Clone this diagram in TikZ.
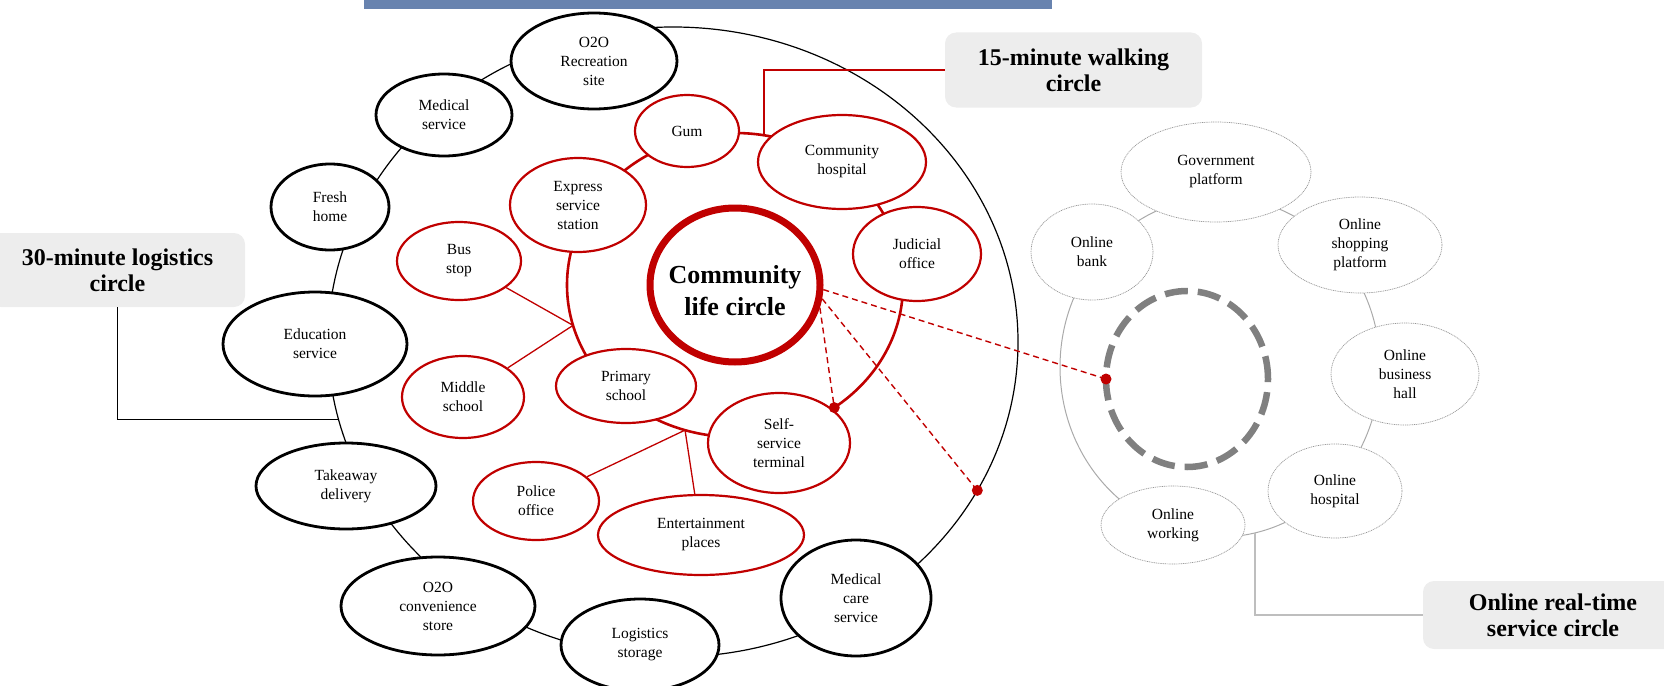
\documentclass[tikz,border=0pt]{standalone}
\usepackage{fontspec}
\setmainfont{Liberation Serif}
\usetikzlibrary{shapes.geometric}
\definecolor{ringred}{RGB}{192,0,0}
\definecolor{barblue}{RGB}{104,131,175}
\definecolor{tagfill}{RGB}{237,237,237}
\definecolor{onlinegray}{RGB}{150,150,150}
\definecolor{linkgray}{RGB}{170,170,170}
\definecolor{taglinegray}{RGB}{190,190,190}
\definecolor{dashgray}{RGB}{128,128,128}

\begin{document}
\begin{tikzpicture}[x=1pt,y=-1pt,
  every node/.style={inner sep=0pt},
  sz/.style 2 args={minimum width=#1pt, minimum height=#2pt},
  nodetext/.style={font=\fontsize{15.5}{19}\selectfont, align=center},
  blacknode/.style={nodetext, ellipse, draw=black, line width=2.8pt, fill=white},
  rednode/.style={nodetext, ellipse, draw=ringred, line width=2.2pt, fill=white},
  onlinenode/.style={nodetext, ellipse, draw=onlinegray, line width=0.7pt,
    dash pattern=on 1pt off 0.8pt, fill=white},
  ringshape/.style={ellipse, outer sep=0pt},
  tag/.style={rectangle, rounded corners=11pt, fill=tagfill,
    font=\fontsize{24}{26}\selectfont\bfseries, align=center},
  redthin/.style={draw=ringred, line width=1.3pt},
  reddash/.style={draw=ringred, line width=1.4pt, dash pattern=on 6pt off 4pt},
  reddot/.style={circle, fill=ringred, minimum size=11pt}
]
\useasboundingbox (0,0) rectangle (1664,685);

% title bar at the top edge
\fill[barblue] (364,-5) rectangle (1052,9);

% the three circles that join the services
\node[ringshape, draw=black, line width=1.2pt, sz={690}{630}] (outerring) at (673,342) {};
\node[ringshape, draw=ringred, line width=2.6pt, sz={336}{304}] (redring) at (735,285) {};
\node[ringshape, draw=linkgray, line width=1pt, sz={320}{340}] (onlinering) at (1220,367) {};

% 30-minute logistics circle
\node[blacknode, sz={166}{96}]  (o2orec)   at (594,61)  {O2O\\Recreation\\site};
\node[blacknode, sz={136}{82}]  (medsvc)   at (444,115) {Medical\\service};
\node[blacknode, sz={118}{86}]  (fresh)    at (330,207) {Fresh\\home};
\node[blacknode, sz={184}{104}] (edu)      at (315,344) {Education\\service};
\node[blacknode, sz={180}{86}]  (takeaway) at (346,486) {Takeaway\\delivery};
\node[blacknode, sz={194}{98}]  (o2oconv)  at (438,606) {O2O\\convenience\\store};
\node[blacknode, sz={158}{92}]  (logist)   at (640,645) {Logistics\\storage};
\node[blacknode, sz={150}{116}] (medcare)  at (856,598) {Medical\\care\\service};

% 15-minute walking circle
\node[rednode, sz={104}{72}]  (gum)      at (687,131) {Gum};
\node[rednode, sz={168}{94}]  (hosp)     at (842,162) {Community\\hospital};
\node[rednode, sz={128}{94}]  (judicial) at (917,254) {Judicial\\office};
\node[rednode, sz={136}{94}]  (express)  at (578,205) {Express\\service\\station};
\node[rednode, sz={124}{78}]  (bus)      at (459,261) {Bus\\stop};
\node[rednode, sz={122}{82}]  (middle)   at (463,397) {Middle\\school};
\node[rednode, sz={140}{74}]  (primary)  at (626,386) {Primary\\school};
\node[rednode, sz={142}{100}] (selfsvc)  at (779,443) {Self-\\service\\terminal};
\node[rednode, sz={126}{78}]  (police)   at (536,501) {Police\\office};
\node[rednode, sz={206}{80}]  (ent)      at (701,535) {Entertainment\\places};

% centre
\node[ellipse, draw=ringred, line width=7pt, fill=white, sz={170}{154}] (clc) at (735,285) {};
\node[font=\fontsize{26}{32}\selectfont\bfseries, align=center] (clctext)
  at ([yshift=-6pt]clc.center) {Community\\life circle};

% online real-time service circle
\node[onlinenode, sz={190}{100}] (gov)   at (1216,172) {Government\\platform};
\node[onlinenode, sz={122}{96}]  (bank)  at (1092,252) {Online\\bank};
\node[onlinenode, sz={164}{96}]  (shop)  at (1360,245) {Online\\shopping\\platform};
\node[onlinenode, sz={148}{102}] (biz)   at (1405,374) {Online\\business\\hall};
\node[onlinenode, sz={134}{94}]  (ohosp) at (1335,491) {Online\\hospital};
\node[onlinenode, sz={144}{78}]  (owork) at (1173,525) {Online\\working};
\node[ringshape, draw=dashgray, line width=6.5pt, dash pattern=on 23pt off 10pt,
  sz={162}{176}] (dashring) at (1187,379) {};

% circle labels
\node[tag, sz={255}{74}] (tag30) at (117.5,270) {30-minute logistics\\circle};
\node[tag, sz={257}{75}] (tag15) at (1073.5,70) {15-minute walking\\circle};
\node[tag, sz={260}{68}] (tagon) at (1553,615) {Online real-time\\service circle};

% points on the circles
\coordinate (j15) at (redring.79);
\coordinate (jbm) at (redring.194);
\coordinate (jpe) at (redring.251);
\coordinate (jss) at (redring.-51);
\coordinate (j30) at (outerring.193);
\coordinate (jod) at (outerring.-26);
\coordinate (jon) at (onlinering.-78);
\coordinate (jdc) at (dashring.west);

% label leaders
\draw[black, line width=1.2pt] (tag30.south) |- (j30);
\draw[redthin] (tag15.west) -| (j15);
\draw[draw=taglinegray, line width=1.6pt] (tagon.west) -| (jon);

% spokes into the walking circle
\draw[redthin] (bus) -- (jbm);
\draw[redthin] (middle) -- (jbm);
\draw[redthin] (police) -- (jpe);
\draw[redthin] (ent) -- (jpe);

% links from the centre
\draw[reddash] (clc.-3) -- (jdc);
\draw[reddash] (clc.-9) -- (jod);
\draw[reddash] (clc.-15) -- (jss);
\node[reddot] (dotss) at (jss) {};
\node[reddot] (dotod) at (jod) {};
\node[reddot] (dotdc) at (jdc) {};
\end{tikzpicture}
\end{document}
